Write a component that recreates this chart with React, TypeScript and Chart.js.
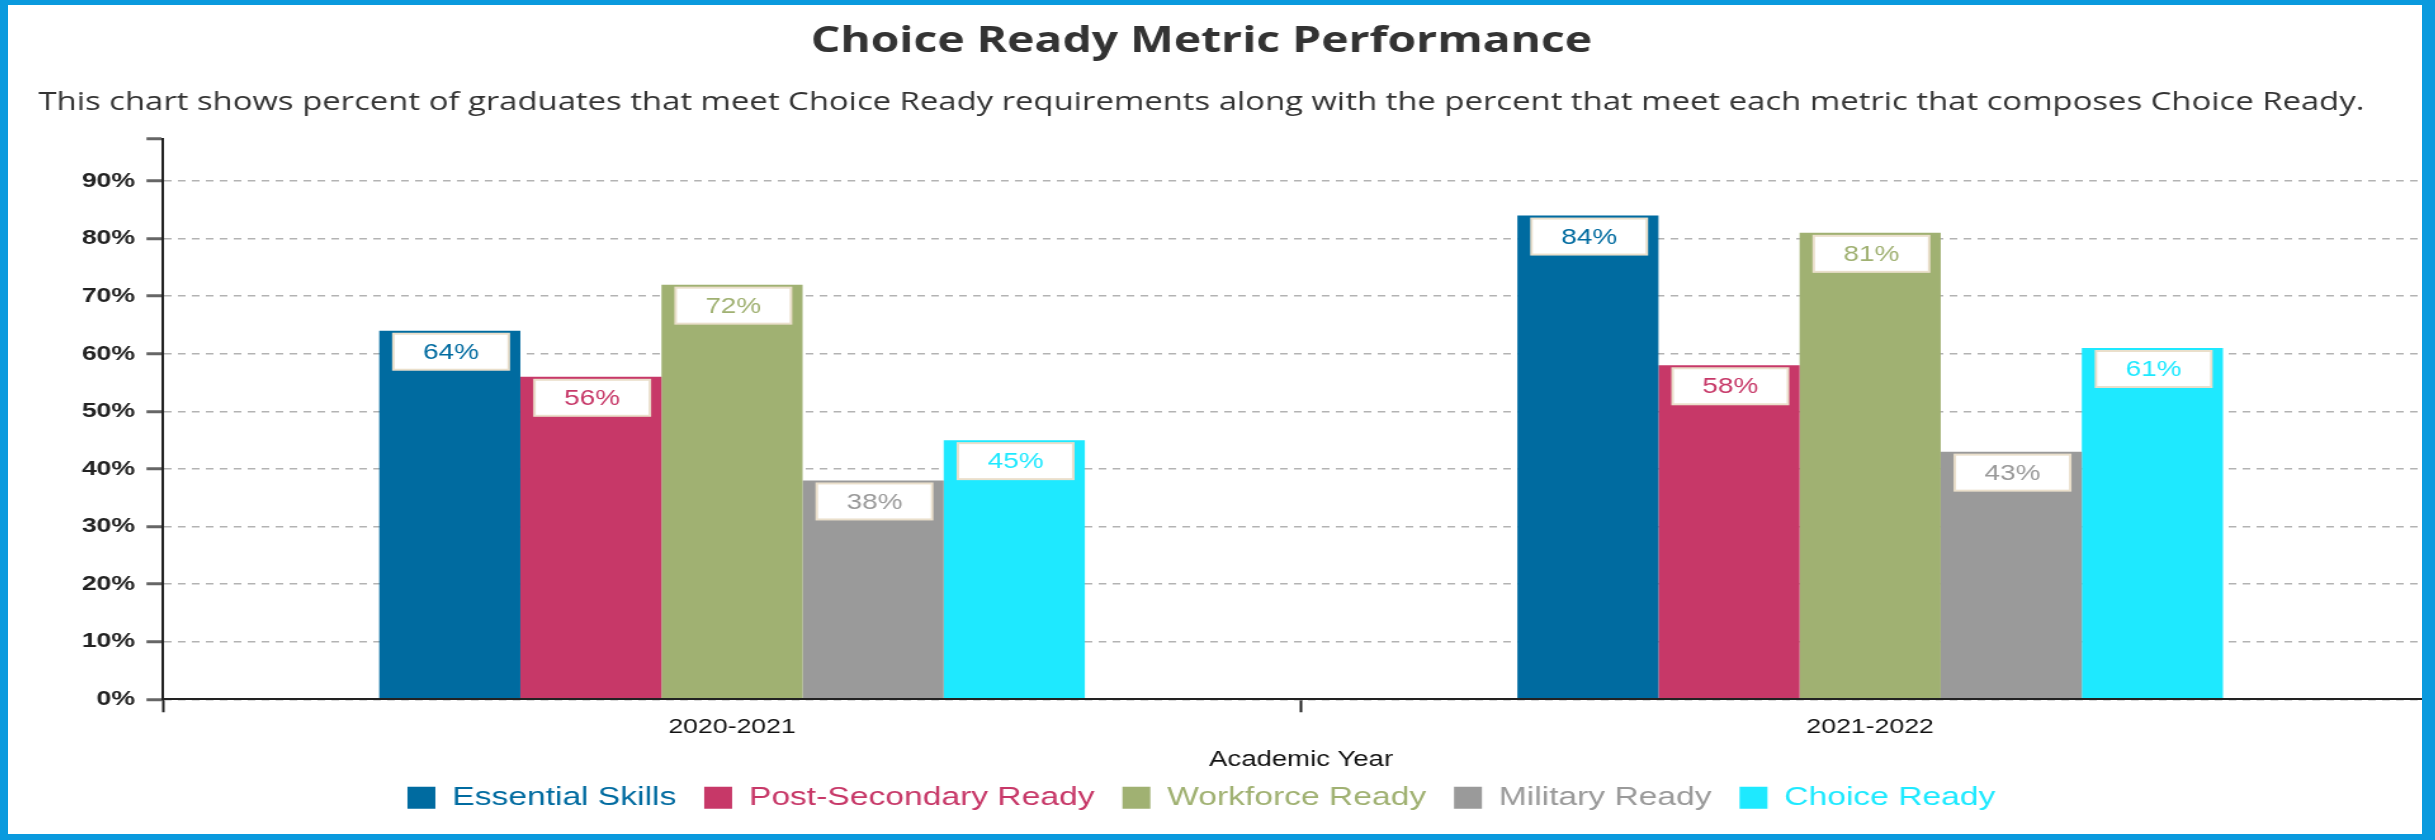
import React, { useEffect, useRef } from 'react';
import { Chart, registerables } from 'chart.js';

Chart.register(...registerables);

// ---------- data ----------
const chartTitle = 'Choice Ready Metric Performance';
const chartSubtitle =
  'This chart shows percent of graduates that meet Choice Ready requirements along with the percent that meet each metric that composes Choice Ready.';
const xAxisTitle = 'Academic Year';
const academicYears = ['2020-2021', '2021-2022'];
const seriesNames = ['Essential Skills', 'Post-Secondary Ready', 'Workforce Ready', 'Military Ready', 'Choice Ready'];
const essentialSkills = [64, 84];
const postSecondaryReady = [56, 58];
const workforceReady = [72, 81];
const militaryReady = [38, 43];
const choiceReady = [45, 61];
const seriesValues = [essentialSkills, postSecondaryReady, workforceReady, militaryReady, choiceReady];
const seriesColors = ['#006ba0', '#c73868', '#a0b172', '#9a9a9a', '#1ee9ff'];
const yTickValues = [0, 10, 20, 30, 40, 50, 60, 70, 80, 90];
const yAxisMax = 97.3;

// ---------- layout constants ----------
const LOGICAL_W = 1920;
const CANVAS_H = 829;
const CSS_W = 2435;
const SANS = "'Liberation Sans', Arial, sans-serif";
const HEAD = "'Open Sans', 'Noto Sans', sans-serif";

const valueBoxes = {
  id: 'valueBoxes',
  afterDatasetsDraw(chart: any) {
    const { ctx } = chart;
    ctx.save();
    chart.data.datasets.forEach((ds: any, di: number) => {
      const meta = chart.getDatasetMeta(di);
      if (meta.hidden) return;
      meta.data.forEach((bar: any, i: number) => {
        const value = ds.data[i];
        const w = 91;
        const h = 36;
        const left = bar.x - w / 2 + 1;
        const top = bar.y + 3;
        ctx.fillStyle = '#ffffff';
        ctx.fillRect(left, top, w, h);
        ctx.lineWidth = 2;
        ctx.strokeStyle = '#eadfcb';
        ctx.strokeRect(left, top, w, h);
        ctx.font = `22px ${SANS}`;
        ctx.fillStyle = ds.backgroundColor;
        ctx.textAlign = 'center';
        ctx.textBaseline = 'middle';
        ctx.fillText(`${value}%`, bar.x + 1, top + h / 2 + 1);
      });
    });
    ctx.restore();
  },
};

export default function App() {
  const canvasRef = useRef<HTMLCanvasElement | null>(null);

  useEffect(() => {
    const canvas = canvasRef.current;
    if (!canvas) return;
    const chart = new Chart(canvas, {
      type: 'bar',
      data: {
        labels: academicYears,
        datasets: seriesNames.map((name, i) => ({
          label: name,
          data: seriesValues[i],
          backgroundColor: seriesColors[i],
          borderWidth: 0,
          categoryPercentage: 0.62,
          barPercentage: 1,
        })),
      },
      options: {
        responsive: false,
        animation: false,
        devicePixelRatio: 1,
        events: [],
        layout: { padding: { left: -35, right: 3, top: 0, bottom: 13 } },
        plugins: {
          title: {
            display: true,
            text: chartTitle,
            color: '#333333',
            font: { family: HEAD, size: 36.5, weight: 'bold' },
            padding: { top: 14.5, bottom: 0 },
          },
          subtitle: {
            display: true,
            text: chartSubtitle,
            color: '#333333',
            font: { family: HEAD, size: 25.9, weight: 'normal' },
            padding: { top: 23.9, bottom: 20.7 },
          },
          legend: {
            position: 'bottom',
            align: 'center',
            labels: {
              boxWidth: 22,
              boxHeight: 22,
              padding: 22,
              font: { family: SANS, size: 26.5 },
              generateLabels: (c: any) => {
                const items = (Chart.defaults.plugins.legend.labels as any).generateLabels(c);
                return items.map((it: any, i: number) => ({
                  ...it,
                  fontColor: seriesColors[i],
                  lineWidth: 0,
                  strokeStyle: 'rgba(0,0,0,0)',
                }));
              },
            },
          },
          tooltip: { enabled: false },
        },
        scales: {
          x: {
            grid: {
              display: true,
              offset: true,
              drawOnChartArea: false,
              drawTicks: true,
              tickLength: 13,
              tickWidth: 2,
              tickColor: '#222222',
            },
            border: { display: true, color: '#222222', width: 2, z: 1 },
            ticks: { font: { family: SANS, size: 21, weight: 'normal' }, color: '#111111', padding: 2 },
            title: {
              display: true,
              text: xAxisTitle,
              color: '#111111',
              font: { family: SANS, size: 21.7, weight: 'normal' },
              padding: { top: 6, bottom: -11 },
            },
          },
          y: {
            min: 0,
            max: yAxisMax,
            afterBuildTicks: (scale: any) => {
              scale.ticks = [...yTickValues, yAxisMax].map((v) => ({ value: v }));
            },
            afterFit: (scale: any) => {
              scale.width = 157.2;
            },
            ticks: {
              callback: (v: any) => (yTickValues.includes(v) ? `${v}%` : ''),
              font: { family: SANS, size: 21, weight: 'bold' },
              color: '#222222',
              padding: 9,
            },
            grid: {
              color: (c: any) =>
                c.tick && yTickValues.includes(c.tick.value) ? '#b3b3b3' : 'rgba(0,0,0,0)',
              lineWidth: 1.5,
              drawTicks: true,
              tickLength: 13,
              tickWidth: 3,
              tickColor: '#666666',
            },
            border: { display: true, color: '#222222', width: 2, dash: [6, 5], z: 1 },
          },
        },
      },
      plugins: [valueBoxes],
    } as any);
    return () => chart.destroy();
  }, []);

  return (
    <div
      style={{
        position: 'fixed',
        left: 0,
        top: 0,
        width: 2435,
        height: 840,
        background: '#0a9ade',
        overflow: 'hidden',
      }}
    >
      <div
        style={{
          position: 'absolute',
          left: 8,
          top: 5,
          width: 2414,
          height: 829,
          background: '#ffffff',
          overflow: 'hidden',
        }}
      >
        <canvas
          ref={canvasRef}
          width={LOGICAL_W}
          height={CANVAS_H}
          style={{ width: `${CSS_W}px`, height: `${CANVAS_H}px`, display: 'block' }}
        />
      </div>
    </div>
  );
}
